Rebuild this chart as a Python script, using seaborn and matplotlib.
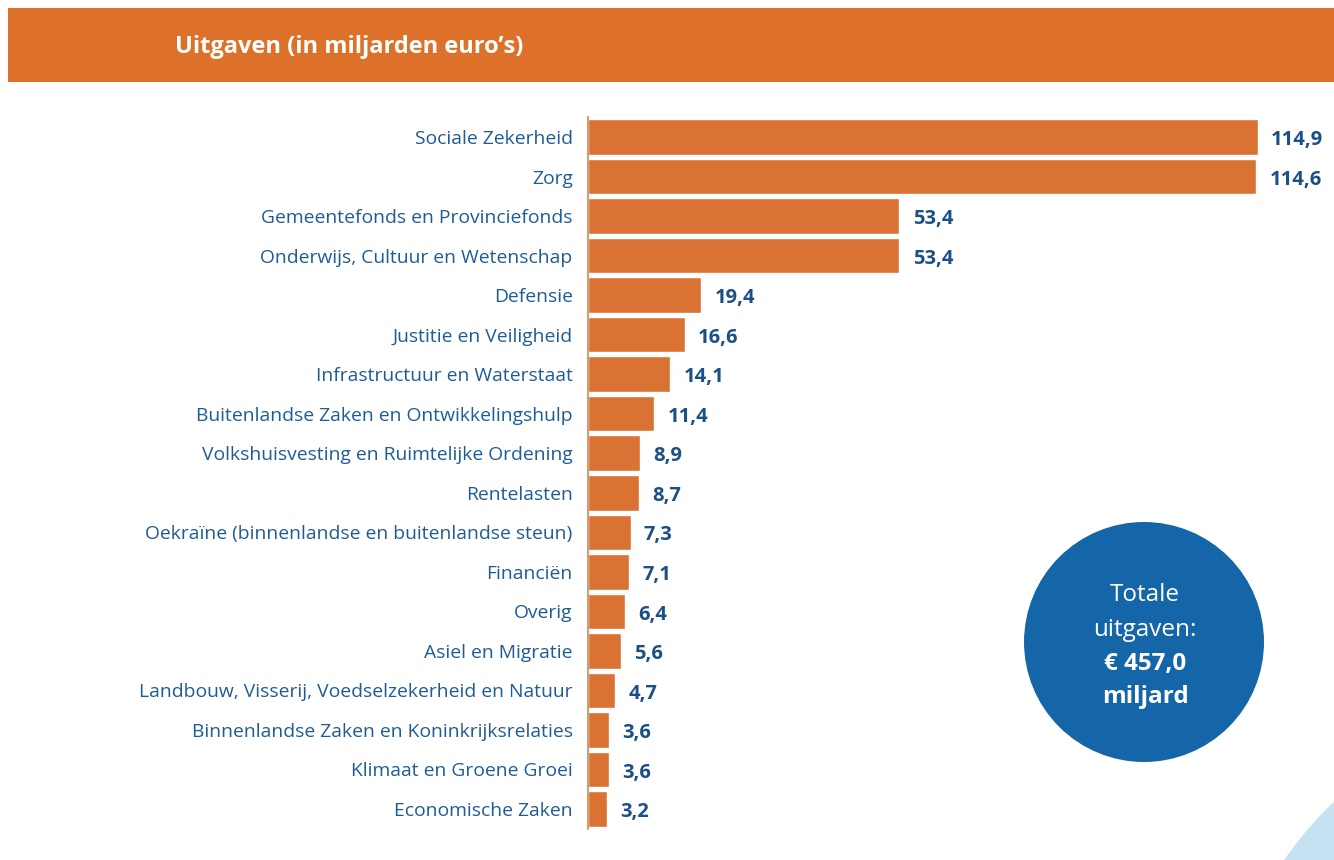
import matplotlib.pyplot as plt
import matplotlib.patches as mpatches
import pandas as pd
import seaborn as sns

categories = [
    "Sociale Zekerheid",
    "Zorg",
    "Gemeentefonds en Provinciefonds",
    "Onderwijs, Cultuur en Wetenschap",
    "Defensie",
    "Justitie en Veiligheid",
    "Infrastructuur en Waterstaat",
    "Buitenlandse Zaken en Ontwikkelingshulp",
    "Volkshuisvesting en Ruimtelijke Ordening",
    "Rentelasten",
    "Oekraïne (binnenlandse en buitenlandse steun)",
    "Financiën",
    "Overig",
    "Asiel en Migratie",
    "Landbouw, Visserij, Voedselzekerheid en Natuur",
    "Binnenlandse Zaken en Koninkrijksrelaties",
    "Klimaat en Groene Groei",
    "Economische Zaken",
]
values = [114.9, 114.6, 53.4, 53.4, 19.4, 16.6, 14.1, 11.4, 8.9, 8.7, 7.3, 7.1, 6.4, 5.6, 4.7, 3.6, 3.6, 3.2]
title = "Uitgaven (in miljarden euro\u2019s)"
total_lines = ["Totale", "uitgaven:", "\u20ac 457,0", "miljard"]

ORANGE = "#d97232"
HEADER = "#de7129"
LABEL_BLUE = "#1e5c97"
VALUE_BLUE = "#1b4f86"
CIRCLE_BLUE = "#1565a9"

sns.set_style("white")
plt.rcParams["font.family"] = ["Open Sans", "DejaVu Sans"]
plt.rcParams["figure.facecolor"] = "white"

df = pd.DataFrame({"categorie": categories, "uitgaven": values})

fig = plt.figure(figsize=(13.34, 8.6), dpi=100)

# header band
fig.patches.append(mpatches.Rectangle((8 / 1334, 1 - 82 / 860), 1, 74 / 860, transform=fig.transFigure,
                                      facecolor=HEADER, edgecolor="none", zorder=0))
fig.text(175 / 1334, 1 - 47 / 860, title, color="white", fontsize=17, fontweight="bold",
         va="center", ha="left")

# light blue arc in bottom-right corner
fig.patches.append(mpatches.Ellipse((1600 / 1334, 1 - 1080 / 860), 770 / 1334, 770 / 860,
                                    transform=fig.transFigure, facecolor="#c4e2f2", edgecolor="none", zorder=0))

ax = fig.add_axes([588 / 1334, 1 - 828.75 / 860, 1 - 588 / 1334, (828.75 - 117.25) / 860])
ax.set_facecolor("none")
sns.barplot(data=df, x="uitgaven", y="categorie", color=ORANGE, width=0.9, saturation=1, ax=ax)

ax.set_xlim(0, 128)
ax.set_ylim(len(categories) - 0.5, -0.5)
for i, v in enumerate(values):
    ax.text(v + 2.3, i + 0.08, f"{v:.1f}".replace(".", ","), color=VALUE_BLUE, fontsize=14.5,
            fontweight="bold", va="center", ha="left")

ax.set_xlabel("")
ax.set_ylabel("")
ax.set_xticks([])
ax.tick_params(axis="y", length=0, pad=11)
plt.setp(ax.get_yticklabels(), color=LABEL_BLUE, fontsize=13.9)
for side in ["top", "right", "bottom"]:
    ax.spines[side].set_visible(False)
ax.spines["left"].set_color("#c98a5a")
ax.spines["left"].set_linewidth(1.2)

# total circle
cx, cy, r = 1144 / 1334, 1 - 642 / 860, 120
fig.patches.append(mpatches.Ellipse((cx, cy), 2 * r / 1334, 2 * r / 860, transform=fig.transFigure,
                                    facecolor=CIRCLE_BLUE, edgecolor="none", zorder=3))
line_y = [595, 630, 664, 697]
for txt, yy in zip(total_lines, line_y):
    fig.text(cx + 1 / 1334, 1 - yy / 860, txt, color="white", fontsize=17.5,
             fontweight="bold" if txt in total_lines[2:] else "normal",
             ha="center", va="center", zorder=4)

plt.savefig("out.png", dpi=100)
plt.close()
